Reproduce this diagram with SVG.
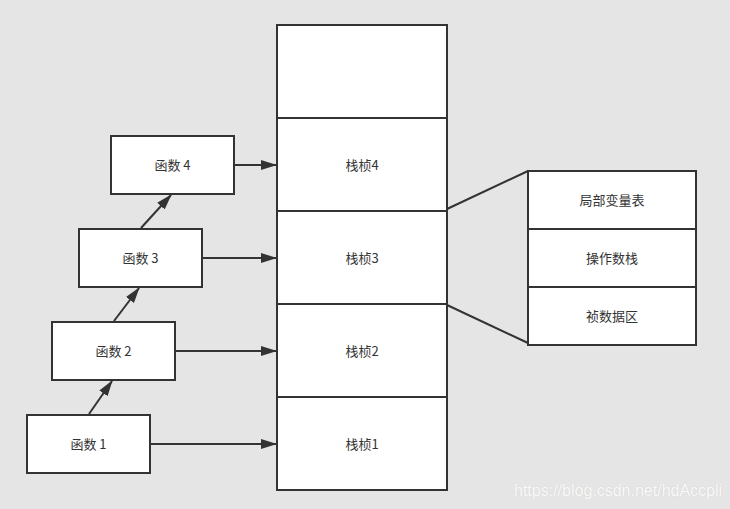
<svg xmlns="http://www.w3.org/2000/svg" width="730" height="509" viewBox="0 0 730 509">
<style>
.box{fill:#fff;stroke:#333;stroke-width:2}
.ln{stroke:#333;stroke-width:2;fill:none}
.t{font-family:"Noto Sans CJK SC","Liberation Sans",sans-serif;font-size:13px;fill:#333;text-anchor:middle;dominant-baseline:central}
.wm{font-family:"Liberation Sans",Arial,sans-serif;font-size:16px;fill:#fafafa}
</style>
<defs>
<marker id="ah" markerWidth="16" markerHeight="12" refX="15" refY="5" orient="auto" markerUnits="userSpaceOnUse">
<path d="M0,0 L16,5 L0,10 Z" fill="#333"/>
</marker>
</defs>
<rect width="730" height="509" fill="#e5e5e5"/>
<g id="stack">
<rect class="box" x="277" y="25" width="170" height="465"/>
<line class="ln" x1="277" y1="118" x2="447" y2="118"/>
<line class="ln" x1="277" y1="211" x2="447" y2="211"/>
<line class="ln" x1="277" y1="304" x2="447" y2="304"/>
<line class="ln" x1="277" y1="397" x2="447" y2="397"/>
<text class="t" x="362" y="164">栈桢4</text>
<text class="t" x="362" y="257">栈桢3</text>
<text class="t" x="362" y="350">栈桢2</text>
<text class="t" x="362" y="443">栈桢1</text>
</g>
<g id="frame-detail">
<rect class="box" x="528" y="171" width="168" height="174"/>
<line class="ln" x1="528" y1="229" x2="696" y2="229"/>
<line class="ln" x1="528" y1="287" x2="696" y2="287"/>
<text class="t" x="612" y="199">局部变量表</text>
<text class="t" x="612" y="257">操作数栈</text>
<text class="t" x="612" y="315">祯数据区</text>
</g>
<g id="f4"><rect class="box" x="111" y="136" width="123" height="58"/><text class="t" x="172.5" y="164">函数 4</text></g>
<g id="f3"><rect class="box" x="79" y="229" width="123" height="58"/><text class="t" x="140.5" y="257">函数 3</text></g>
<g id="f2"><rect class="box" x="52" y="322" width="123" height="58"/><text class="t" x="113.5" y="350">函数 2</text></g>
<g id="f1"><rect class="box" x="27" y="415" width="123" height="58"/><text class="t" x="88.5" y="443">函数 1</text></g>
<g id="connectors">
<line class="ln" x1="234" y1="165" x2="276" y2="165" marker-end="url(#ah)"/>
<line class="ln" x1="202" y1="258" x2="276" y2="258" marker-end="url(#ah)"/>
<line class="ln" x1="175" y1="351" x2="276" y2="351" marker-end="url(#ah)"/>
<line class="ln" x1="150" y1="444" x2="276" y2="444" marker-end="url(#ah)"/>
<line class="ln" x1="89" y1="414" x2="112" y2="381" marker-end="url(#ah)"/>
<line class="ln" x1="114" y1="321" x2="139" y2="288" marker-end="url(#ah)"/>
<line class="ln" x1="141" y1="228" x2="171" y2="195" marker-end="url(#ah)"/>
<line class="ln" x1="447" y1="209" x2="528" y2="171"/>
<line class="ln" x1="447" y1="305" x2="528" y2="343"/>
</g>
<text class="wm" x="514" y="496" style="text-shadow:0 0 1px #c8c8c8">https://blog.csdn.net/hdAccpli</text>
</svg>
